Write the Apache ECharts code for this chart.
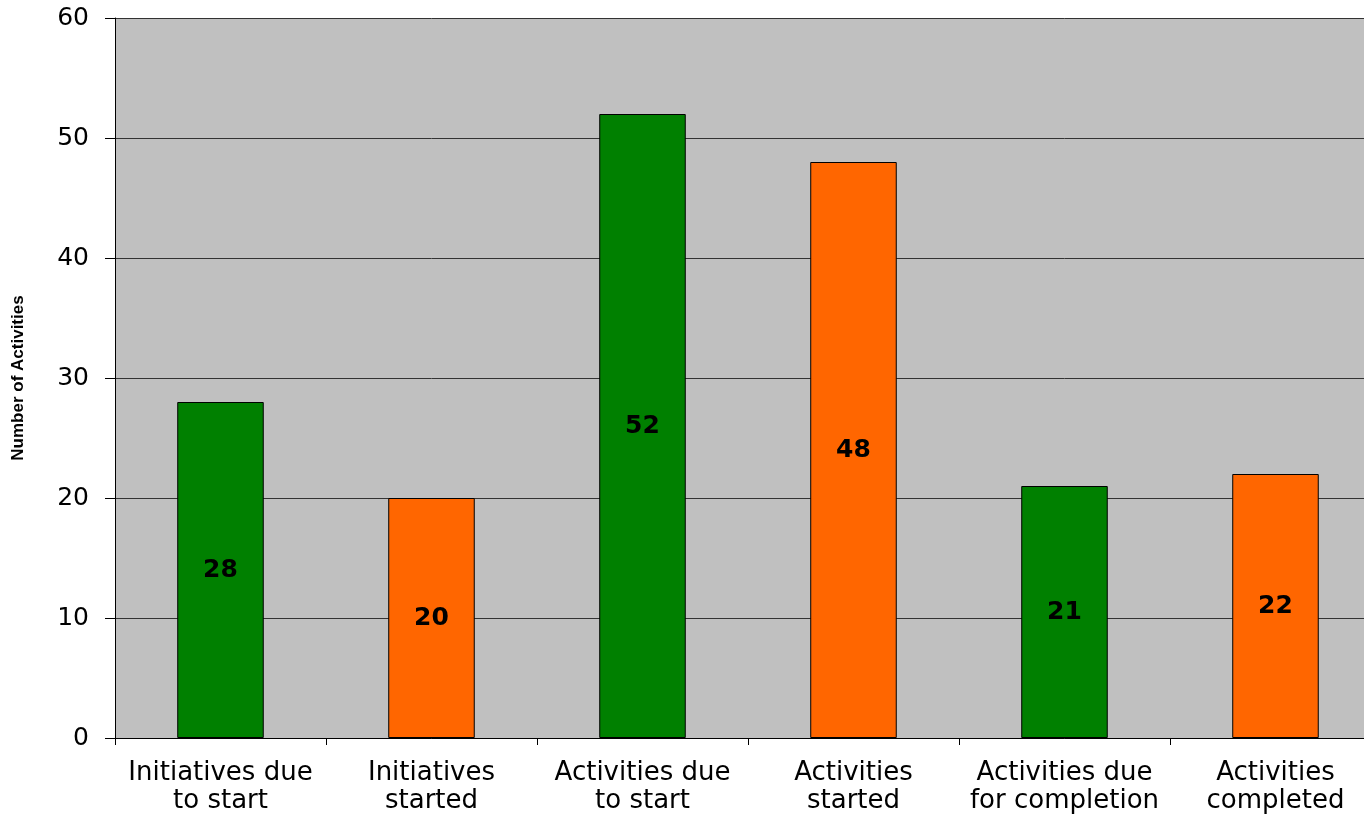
<!DOCTYPE html>
<html>
<head>
<meta charset="utf-8">
<script src="https://cdn.jsdelivr.net/npm/echarts@6/dist/echarts.min.js"></script>
<style>html,body{margin:0;padding:0;background:#fff;overflow:hidden;}#c{width:1381px;height:816px;}</style>
</head>
<body>
<div id="c"></div>
<script>
var categories = ["Initiatives due\nto start", "Initiatives\nstarted", "Activities due\nto start", "Activities\nstarted", "Activities due\nfor completion", "Activities\ncompleted"];
var values = [28, 20, 52, 48, 21, 22];
var barColors = ["#008000", "#FF6600", "#008000", "#FF6600", "#008000", "#FF6600"];
var yTicks = [0, 10, 20, 30, 40, 50, 60];

var chart = echarts.init(document.getElementById('c'));
chart.setOption({
  animation: false,
  grid: { left: 115, top: 18, right: 0, bottom: 78, backgroundColor: '#C0C0C0', show: true, borderWidth: 0 },
  xAxis: {
    type: 'category',
    data: categories,
    axisLine: { lineStyle: { color: '#000', width: 1 } },
    axisTick: { show: true, length: 7, interval: 0, lineStyle: { color: '#000' } },
    axisLabel: { interval: 0, color: '#000', fontSize: 26, fontFamily: 'DejaVu Sans, sans-serif', lineHeight: 28, margin: 21 }
  },
  yAxis: {
    type: 'value',
    min: yTicks[0], max: yTicks[yTicks.length - 1], interval: 10,
    name: 'Number of Activities',
    nameLocation: 'middle',
    nameGap: 88,
    nameTextStyle: { color: '#000', fontSize: 17, fontWeight: 'bold', fontFamily: 'Liberation Sans, Arial, sans-serif' },
    axisLine: { show: true, lineStyle: { color: '#000', width: 1 } },
    axisTick: { show: true, length: 10, lineStyle: { color: '#000' } },
    axisLabel: { color: '#000', fontSize: 25, fontFamily: 'DejaVu Sans, sans-serif', margin: 26 },
    splitLine: { lineStyle: { color: '#333', width: 1 } }
  },
  series: [{
    type: 'bar',
    barWidth: '41%',
    data: values.map(function (v, i) { return { value: v, itemStyle: { color: barColors[i] } }; }),
    itemStyle: { borderColor: '#000', borderWidth: 1 },
    label: { show: true, position: 'inside', color: '#000', fontSize: 25, fontWeight: 'bold', fontFamily: 'DejaVu Sans, sans-serif' }
  }]
});
</script>
</body>
</html>
